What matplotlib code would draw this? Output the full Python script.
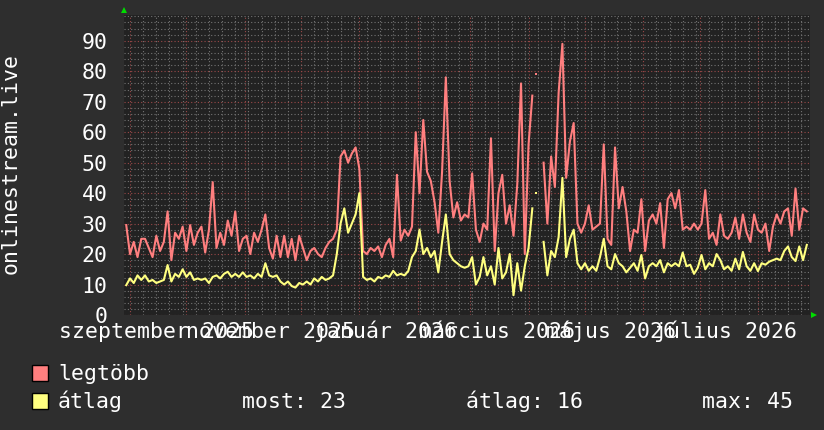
import numpy as np
import matplotlib
matplotlib.use('Agg')
import matplotlib.pyplot as plt
import matplotlib.dates as mdates
from matplotlib.patches import Rectangle
from datetime import datetime, timedelta

# ---------------- data ----------------
data_start = datetime(2025, 8, 30)
step_days = 2

legtobb = [29.5, 20, 24, 19, 25, 25, 22, 19, 26, 21,
           24, 34, 18, 27, 25, 29, 21, 29.5, 23, 27,
           29, 20.5, 28, 43.6, 22, 27, 23, 31, 26, 34,
           21, 25, 26, 20, 27, 24, 28, 33, 22, 18.5,
           26, 19, 26, 19, 25, 18, 26, 22, 18, 21,
           22, 20, 19, 22, 24, 25, 28, 52, 54, 50,
           53, 55, 48, 21, 20, 22, 21, 22.5, 19, 23,
           25, 19, 46, 24.4, 28, 26, 29, 60, 40, 64,
           47, 44, 37, 27, 47, 78, 44, 32, 37, 31,
           33, 32, 46.5, 28, 24, 30, 28, 58, 21, 40,
           46, 30, 36, 26, 43, 76, 20, 56, 72, np.nan,
           np.nan, 50, 30, 52, 42, 73, 89, 45, 57, 63,
           30, 27, 30, 36, 28, 29, 30, 56, 25, 23,
           55, 35, 42, 34, 21, 28, 27, 38, 21, 31,
           33, 30, 36.7, 22, 38, 40, 35, 41, 28, 29,
           28, 30, 28, 30, 41, 25, 27, 23, 33, 26,
           25, 27, 32, 25, 33, 27, 24, 33, 28, 27,
           30, 21, 29, 33, 30, 34, 35, 26, 41.5, 28,
           35, 34]

atlag = [9.8, 12, 10.5, 13, 11.5, 13, 11, 11.5, 10.5, 11,
         11.5, 16.4, 11, 13.5, 12.5, 15, 12.5, 14, 11.5, 12,
         11.5, 12, 10.5, 12.5, 13, 12, 13.5, 14.2, 12.5, 13.5,
         12.5, 14, 12.5, 13, 12, 13.5, 12.5, 17, 13, 12.5,
         13, 11, 10, 11, 9.5, 9, 10.5, 10, 11, 10,
         12, 11, 12.5, 11.5, 12, 13, 20, 30, 35, 27,
         30, 33, 40, 12.5, 11.5, 12, 11, 12.5, 12, 13,
         12.5, 14.5, 13, 13.5, 13, 14.4, 19, 21, 28, 20,
         22, 19, 21, 14, 24, 33, 20, 18, 17, 16,
         15.5, 16, 19, 10, 12.5, 19, 13, 16, 10, 22,
         12, 14, 20, 6.5, 17, 8, 16, 22, 35, np.nan,
         np.nan, 24, 13, 21, 19, 25.6, 45, 19, 25, 28,
         17, 15, 17, 14.5, 16, 14.5, 19, 25, 16, 15,
         20, 17, 16, 14, 15.5, 17, 14.5, 19.7, 12, 16,
         17, 16, 18, 14, 17, 16, 17, 16, 20.5, 16,
         16.5, 13.5, 15.5, 19.7, 15, 17, 16, 20, 18, 15,
         16, 14.5, 18.5, 15, 20.7, 16, 14.5, 17, 14.4, 17,
         16.5, 17.5, 18, 18.5, 18, 21, 22.5, 19, 17.7, 22.5,
         18, 23]

# isolated samples inside the gap
iso_date = [datetime(2026, 4, 5)]
iso_legtobb = [79]
iso_atlag = [40]

month_labels = ['szeptember 2025', 'november 2025', 'január 2026',
                'március 2026', 'május 2026', 'július 2026']
month_label_dates = [datetime(2025, 9, 15), datetime(2025, 11, 15),
                     datetime(2026, 1, 15), datetime(2026, 3, 15),
                     datetime(2026, 5, 15), datetime(2026, 7, 15)]
y_ticks = [0, 10, 20, 30, 40, 50, 60, 70, 80, 90]
y_label = 'onlinestream.live'
series_names = ['legtöbb', 'átlag']
stat_labels = ['most: 23', 'átlag: 16', 'max: 45']

# ---------------- figure ----------------
W, H = 824, 430
BG = '#2e2e2e'
CANVAS = '#222222'
RED = '#ff7f7f'
YEL = '#ffff80'
FONT = 'DejaVu Sans Mono'
FS = 15.5

plt.rcParams['font.family'] = [FONT]

fig = plt.figure(figsize=(W / 100, H / 100), dpi=100)
fig.patch.set_facecolor(BG)

px_l, px_r, px_t, px_b = 124, 810, 15, 315
ax = fig.add_axes([px_l / W, 1 - px_b / H, (px_r - px_l) / W, (px_b - px_t) / H])
ax.set_facecolor(CANVAS)

dates = [data_start + timedelta(days=step_days * i) for i in range(len(legtobb))]
dnum = mdates.date2num(dates)

ref = mdates.date2num(datetime(2025, 9, 1))
ax.set_xlim(ref - 3.19, ref + 361.7)
ax.set_ylim(0, 98.45)

# grid
ax.xaxis.set_major_locator(mdates.MonthLocator())
ax.xaxis.set_minor_locator(mdates.WeekdayLocator(byweekday=mdates.MO))
ax.xaxis.set_major_formatter(matplotlib.ticker.NullFormatter())
ax.set_yticks(y_ticks)
ax.set_yticklabels([str(v) for v in y_ticks])
ax.yaxis.set_minor_locator(matplotlib.ticker.MultipleLocator(2))

ax.grid(which='minor', color='#747474', linestyle=(0, (1, 2)), linewidth=0.8)
ax.grid(which='major', color='#9a4848', linestyle=(0, (1, 2)), linewidth=0.8)
ax.set_axisbelow(True)

ax.tick_params(axis='x', which='both', length=0)
ax.tick_params(axis='y', which='both', length=0, pad=11.9,
               labelsize=FS, labelcolor='white')
for s in ax.spines.values():
    s.set_visible(False)

# lines
ax.plot(dnum, legtobb, color=RED, lw=1.5, zorder=3)
ax.plot(dnum, atlag, color=YEL, lw=1.5, zorder=4)
ax.plot(mdates.date2num(iso_date), iso_legtobb, 's', color=RED, ms=2, mew=0, zorder=3)
ax.plot(mdates.date2num(iso_date), iso_atlag, 's', color=YEL, ms=2, mew=0, zorder=4)

# x labels
for d, lab in zip(month_label_dates, month_labels):
    ax.text(mdates.date2num(d), -(338.5 - px_b) / (px_b - px_t), lab,
            transform=ax.get_xaxis_transform(), ha='center', va='baseline',
            fontsize=FS, color='white', clip_on=False)

# arrows
ax.plot([0], [(px_b - 9.5) / (px_b - px_t)], marker='^', color='#00dd00',
        ms=5, mew=0, transform=ax.transAxes, clip_on=False)
ax.plot([(814 - px_l) / (px_r - px_l)], [0], marker='>', color='#00dd00',
        ms=5, mew=0, transform=ax.transAxes, clip_on=False)

# y label
fig.text(11 / W, 1 - 164 / H, y_label, rotation=90, ha='center', va='center',
         fontsize=FS, color='white')

# legend
for (yy, col) in [(365, RED), (393, YEL)]:
    fig.patches.append(Rectangle((32 / W, 1 - (yy + 16) / H), 16 / W, 16 / H,
                                 transform=fig.transFigure, facecolor=col,
                                 edgecolor='black', linewidth=1))
fig.text(58 / W, 1 - 380.5 / H, series_names[0], ha='left', va='baseline',
         fontsize=FS, color='white')
fig.text(58 / W, 1 - 408.5 / H, series_names[1], ha='left', va='baseline',
         fontsize=FS, color='white')
for xx, lab in zip([242, 466, 702], stat_labels):
    fig.text(xx / W, 1 - 408.5 / H, lab, ha='left', va='baseline',
             fontsize=FS, color='white')

fig.savefig('out.png', dpi=100, facecolor=BG)
